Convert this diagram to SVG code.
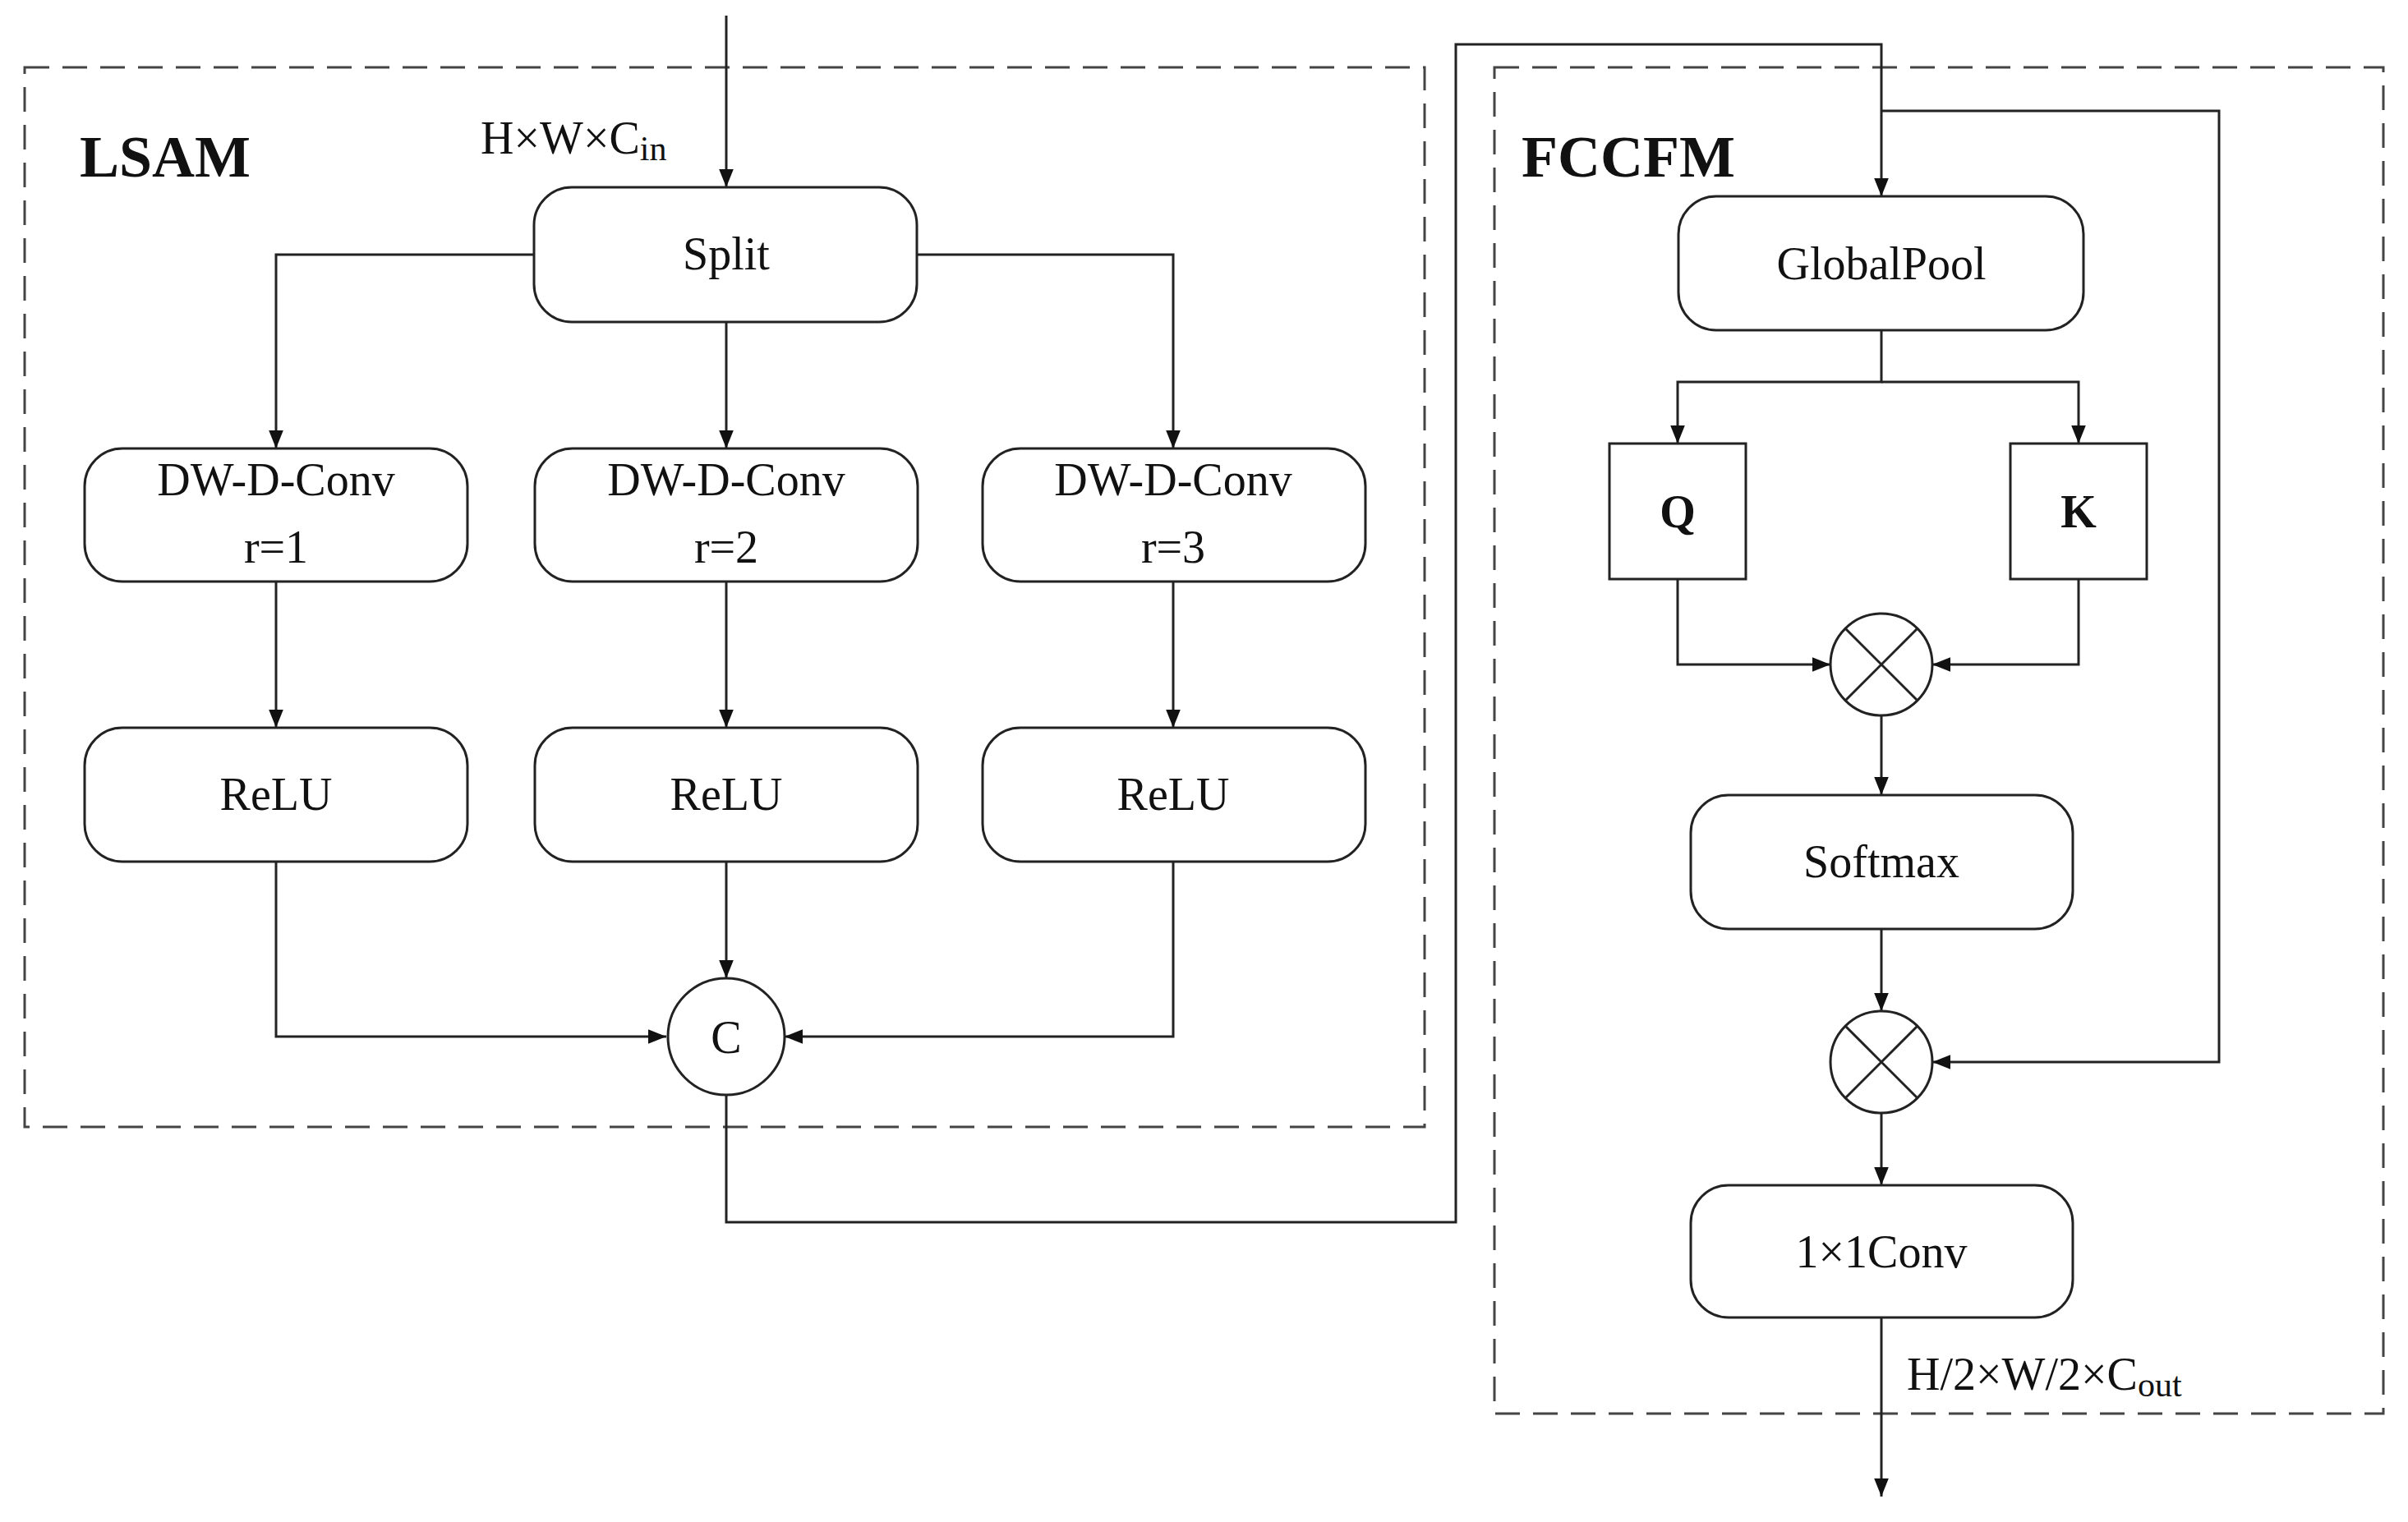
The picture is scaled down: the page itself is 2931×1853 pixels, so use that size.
<svg xmlns="http://www.w3.org/2000/svg" width="2931" height="1853" viewBox="0 0 2931 1853">
<defs>
<marker id="ah" viewBox="0 0 10 10" refX="10" refY="5" markerWidth="8" markerHeight="8" markerUnits="userSpaceOnUse" orient="auto"><path d="M0,0 L10,5 L0,10 z" fill="#111"/></marker>
<style>
.b{fill:#fff;stroke:#222;stroke-width:3}
.d{fill:none;stroke:#444;stroke-width:3;stroke-dasharray:30 16}
.c{fill:none;stroke:#222;stroke-width:3}
.a{fill:none;stroke:#222;stroke-width:3;marker-end:url(#ah)}
text{font-family:"Liberation Serif","Times New Roman",serif;fill:#111;text-anchor:middle}
.t{font-size:56px}
.h{font-size:72px;font-weight:bold;text-anchor:start}
</style>
<marker id="arr" viewBox="0 0 20 20" refX="20" refY="10" markerWidth="22" markerHeight="22" markerUnits="userSpaceOnUse" orient="auto"><path d="M0,2 L20,10 L0,18 z" fill="#111"/></marker>
</defs>
<rect width="2931" height="1853" fill="#fff"/>
<rect class="d" x="30" y="82" width="1704" height="1290"/>
<rect class="d" x="1819" y="82" width="1082" height="1639"/>
<text class="h" x="97" y="215">LSAM</text>
<text class="h" x="1852" y="215">FCCFM</text>
<text class="t" x="585" y="187" style="text-anchor:start">H×W×C<tspan font-size="42" dy="8">in</tspan></text>
<text class="t" x="2321" y="1692" style="text-anchor:start">H/2×W/2×C<tspan font-size="42" dy="8">out</tspan></text>
<g id="connectors" style="marker-end:url(#arr)">
<path class="c" d="M884,19 V228" marker-end="url(#arr)"/>
<path class="c" d="M650,310 H336 V546" marker-end="url(#arr)"/>
<path class="c" d="M884,392 V546" marker-end="url(#arr)"/>
<path class="c" d="M1116,310 H1428 V546" marker-end="url(#arr)"/>
<path class="c" d="M336,708 V886" marker-end="url(#arr)"/>
<path class="c" d="M884,708 V886" marker-end="url(#arr)"/>
<path class="c" d="M1428,708 V886" marker-end="url(#arr)"/>
<path class="c" d="M884,1049 V1191" marker-end="url(#arr)"/>
<path class="c" d="M336,1049 V1262 H811" marker-end="url(#arr)"/>
<path class="c" d="M1428,1049 V1262 H955" marker-end="url(#arr)"/>
<path class="c" d="M884,1333 V1488 H1772 V54 H2290 V239" marker-end="url(#arr)"/>
<path class="c" d="M2290,402 V465 H2042 V540" marker-end="url(#arr)"/>
<path class="c" d="M2290,465 H2530 V540" marker-end="url(#arr)"/>
<path class="c" d="M2042,705 V809 H2228" marker-end="url(#arr)"/>
<path class="c" d="M2530,705 V809 H2352" marker-end="url(#arr)"/>
<path class="c" d="M2290,871 V968" marker-end="url(#arr)"/>
<path class="c" d="M2290,1131 V1231" marker-end="url(#arr)"/>
<path class="c" d="M2290,135 H2701 V1293 H2352" marker-end="url(#arr)"/>
<path class="c" d="M2290,1355 V1443" marker-end="url(#arr)"/>
<path class="c" d="M2290,1604 V1822" marker-end="url(#arr)"/>
</g>
<g id="split"><rect class="b" x="650" y="228" width="466" height="164" rx="46"/><text class="t" x="884" y="328">Split</text></g>
<g id="dw1"><rect class="b" x="103" y="546" width="466" height="162" rx="46"/><text class="t" x="336" y="603">DW-D-Conv</text><text class="t" x="336" y="685">r=1</text></g>
<g id="dw2"><rect class="b" x="651" y="546" width="466" height="162" rx="46"/><text class="t" x="884" y="603">DW-D-Conv</text><text class="t" x="884" y="685">r=2</text></g>
<g id="dw3"><rect class="b" x="1196" y="546" width="466" height="162" rx="46"/><text class="t" x="1428" y="603">DW-D-Conv</text><text class="t" x="1428" y="685">r=3</text></g>
<g id="relu1"><rect class="b" x="103" y="886" width="466" height="163" rx="46"/><text class="t" x="336" y="986">ReLU</text></g>
<g id="relu2"><rect class="b" x="651" y="886" width="466" height="163" rx="46"/><text class="t" x="884" y="986">ReLU</text></g>
<g id="relu3"><rect class="b" x="1196" y="886" width="466" height="163" rx="46"/><text class="t" x="1428" y="986">ReLU</text></g>
<g id="concat"><circle class="b" cx="884" cy="1262" r="71"/><text class="t" x="884" y="1282">C</text></g>
<g id="globalpool"><rect class="b" x="2043" y="239" width="493" height="163" rx="46"/><text class="t" x="2290" y="340">GlobalPool</text></g>
<g id="q"><rect class="b" x="1959" y="540" width="166" height="165"/><text class="t" x="2042" y="642" font-weight="bold">Q</text></g>
<g id="k"><rect class="b" x="2447" y="540" width="166" height="165"/><text class="t" x="2530" y="642" font-weight="bold">K</text></g>
<g id="mul1"><circle class="b" cx="2290" cy="809" r="62"/><path class="c" d="M2246,765 L2334,853 M2334,765 L2246,853" stroke-width="2"/></g>
<g id="softmax"><rect class="b" x="2058" y="968" width="465" height="163" rx="46"/><text class="t" x="2290" y="1068">Softmax</text></g>
<g id="mul2"><circle class="b" cx="2290" cy="1293" r="62"/><path class="c" d="M2246,1249 L2334,1337 M2334,1249 L2246,1337" stroke-width="2"/></g>
<g id="conv1x1"><rect class="b" x="2058" y="1443" width="465" height="161" rx="46"/><text class="t" x="2290" y="1543">1×1Conv</text></g>
</svg>
